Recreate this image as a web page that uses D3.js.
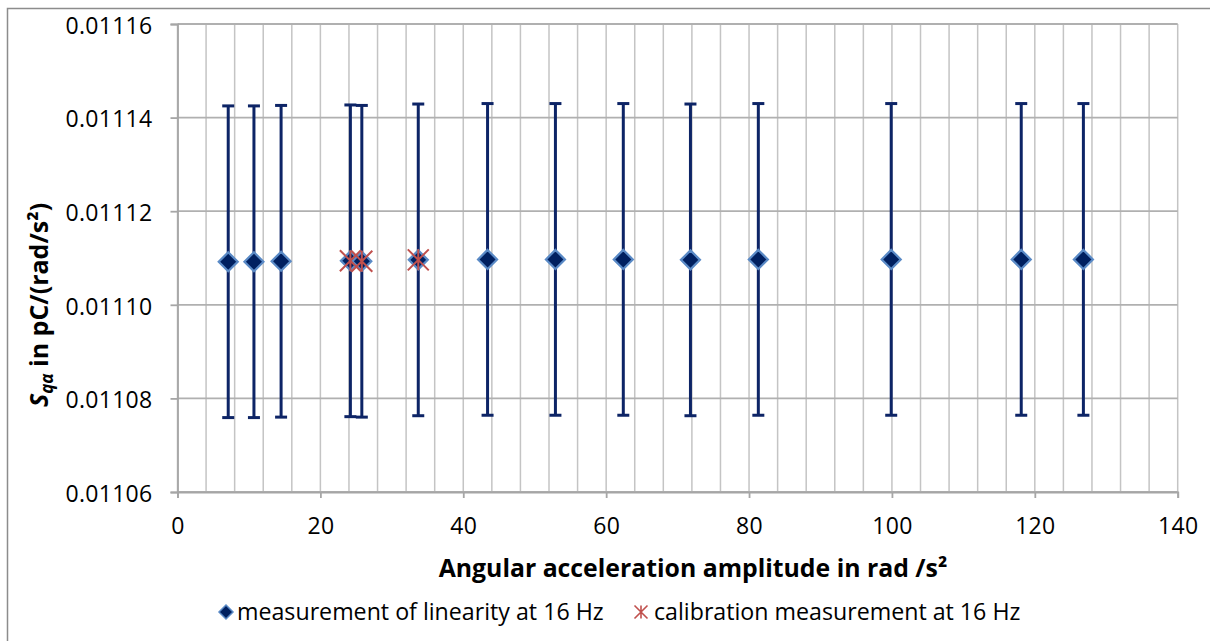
<!DOCTYPE html>
<html><head><meta charset="utf-8">
<script src="https://cdn.jsdelivr.net/npm/d3@7"></script>
<style>html,body{margin:0;padding:0;background:#fff;}svg{display:block;}</style>
</head><body>
<script>
// Data
const linX = [7.1, 10.7, 14.5, 24.2, 25.8, 33.7, 43.4, 52.9, 62.4, 71.8, 81.3, 99.9, 118.1, 126.8];
const linY = [0.0111092, 0.0111092, 0.0111093, 0.0111094, 0.0111093, 0.0111096, 0.0111097, 0.0111097, 0.0111097, 0.0111096, 0.0111097, 0.0111097, 0.0111097, 0.0111097];
const linErr = [0.0000333, 0.0000333, 0.0000333, 0.0000333, 0.0000333, 0.0000333, 0.0000333, 0.0000333, 0.0000333, 0.0000333, 0.0000333, 0.0000333, 0.0000333, 0.0000333];
const calX = [24.2, 25.8, 33.7];
const calY = [0.0111094, 0.0111093, 0.0111096];
const xTicks = [0, 20, 40, 60, 80, 100, 120, 140];
const xGrid = d3.range(0, 141, 4);
const yTicks = [0.01106, 0.01108, 0.01110, 0.01112, 0.01114, 0.01116];
const xTitle = "Angular acceleration amplitude in rad /s²";
const legendLabels = ["measurement of linearity at 16 Hz", "calibration measurement at 16 Hz"];

const W = 1210, H = 641;
const FONT = "'Open Sans', Lato, sans-serif";
const svg = d3.select("body").append("svg").attr("width", W).attr("height", H);
svg.append("rect").attr("width", W).attr("height", H).attr("fill", "#fff");
svg.append("rect").attr("x", 7.5).attr("y", 8.5).attr("width", W + 10).attr("height", H + 10)
  .attr("fill", "none").attr("stroke", "#8c8c8c").attr("stroke-width", 1.5);

const x = d3.scaleLinear().domain([0, 140]).range([177.5, 1177.7]);
const y = d3.scaleLinear().domain([0.01106, 0.01116]).range([492, 24]);

// vertical grid
svg.append("g").selectAll("line").data(xGrid).join("line")
  .attr("x1", d => x(d)).attr("x2", d => x(d)).attr("y1", y(0.01116)).attr("y2", y(0.01106))
  .attr("stroke", "#c4c4c4").attr("stroke-width", 1.5);
// horizontal grid
svg.append("g").selectAll("line").data(yTicks).join("line")
  .attr("x1", x(0)).attr("x2", x(140)).attr("y1", d => y(d)).attr("y2", d => y(d))
  .attr("stroke", "#b0b0b0").attr("stroke-width", 1.8);

// axes
const xAxis = svg.append("g").attr("transform", `translate(0,${y(0.01106)})`)
  .call(d3.axisBottom(x).tickValues(xTicks).tickSize(6).tickPadding(20).tickFormat(d3.format("d")));
const yAxis = svg.append("g").attr("transform", `translate(${x(0)},0)`)
  .call(d3.axisLeft(y).tickValues(yTicks).tickSize(7).tickPadding(18).tickFormat(d3.format(".5f")));
[xAxis, yAxis].forEach(a => {
  a.select(".domain").attr("stroke", "#a6a6a6").attr("stroke-width", 1.8);
  a.selectAll(".tick line").attr("stroke", "#a6a6a6").attr("stroke-width", 1.8);
  a.selectAll("text").attr("fill", "#000").attr("font-family", FONT).attr("font-size", 23).attr("letter-spacing", "0.3px");
});
yAxis.selectAll("text").attr("dy", "0.4em");

// error bars
const eb = svg.append("g").attr("stroke", "#0d2466").attr("stroke-width", 3);
linX.forEach((xv, i) => {
  const x0 = x(xv), yt = y(linY[i] + linErr[i]), yb = y(linY[i] - linErr[i]);
  eb.append("line").attr("x1", x0).attr("x2", x0).attr("y1", yt).attr("y2", yb);
  eb.append("line").attr("x1", x0 - 6).attr("x2", x0 + 6).attr("y1", yt).attr("y2", yt);
  eb.append("line").attr("x1", x0 - 6).attr("x2", x0 + 6).attr("y1", yb).attr("y2", yb);
});

// diamonds
const diamond = (cx, cy, r) => `M${cx},${cy - r}L${cx + r},${cy}L${cx},${cy + r}L${cx - r},${cy}Z`;
svg.append("g").selectAll("path").data(linX).join("path")
  .attr("d", (d, i) => diamond(x(d), y(linY[i]), 9.5))
  .attr("fill", "#002060").attr("stroke", "#5a8ac6").attr("stroke-width", 2.2);

// stars
const star = (cx, cy, r) => `M${cx - r},${cy - r}L${cx + r},${cy + r}M${cx - r},${cy + r}L${cx + r},${cy - r}M${cx},${cy - r}L${cx},${cy + r}`;
svg.append("g").selectAll("path").data(calX).join("path")
  .attr("d", (d, i) => star(x(d), y(calY[i]), 10.5))
  .attr("fill", "none").attr("stroke", "#c0504d").attr("stroke-width", 2);

// titles
svg.append("text").attr("x", 693).attr("y", 577).attr("text-anchor", "middle")
  .attr("font-family", FONT).attr("font-weight", "bold").attr("font-size", 24.8).attr("fill", "#000")
  .text(xTitle);

const yt = svg.append("text").attr("transform", "translate(48,305) rotate(-90)").attr("text-anchor", "middle")
  .attr("font-family", FONT).attr("font-weight", "bold").attr("font-size", 25).attr("fill", "#000");
yt.append("tspan").attr("font-style", "italic").text("S");
yt.append("tspan").attr("font-style", "italic").attr("font-size", 17).attr("dy", 5).text("qα");
yt.append("tspan").attr("dy", -5).text(" in pC/(rad/s²)");

// legend
const lg = svg.append("g").attr("font-family", FONT).attr("font-size", 23.2).attr("fill", "#000");
lg.append("path").attr("d", diamond(226, 612, 7)).attr("fill", "#002060").attr("stroke", "#5a8ac6").attr("stroke-width", 1.5);
lg.append("text").attr("x", 237).attr("y", 620).text(legendLabels[0]);
lg.append("path").attr("d", star(641, 612, 6.5)).attr("fill", "none").attr("stroke", "#c0504d").attr("stroke-width", 1.6);
lg.append("text").attr("x", 654).attr("y", 620).text(legendLabels[1]);
</script>
</body></html>
